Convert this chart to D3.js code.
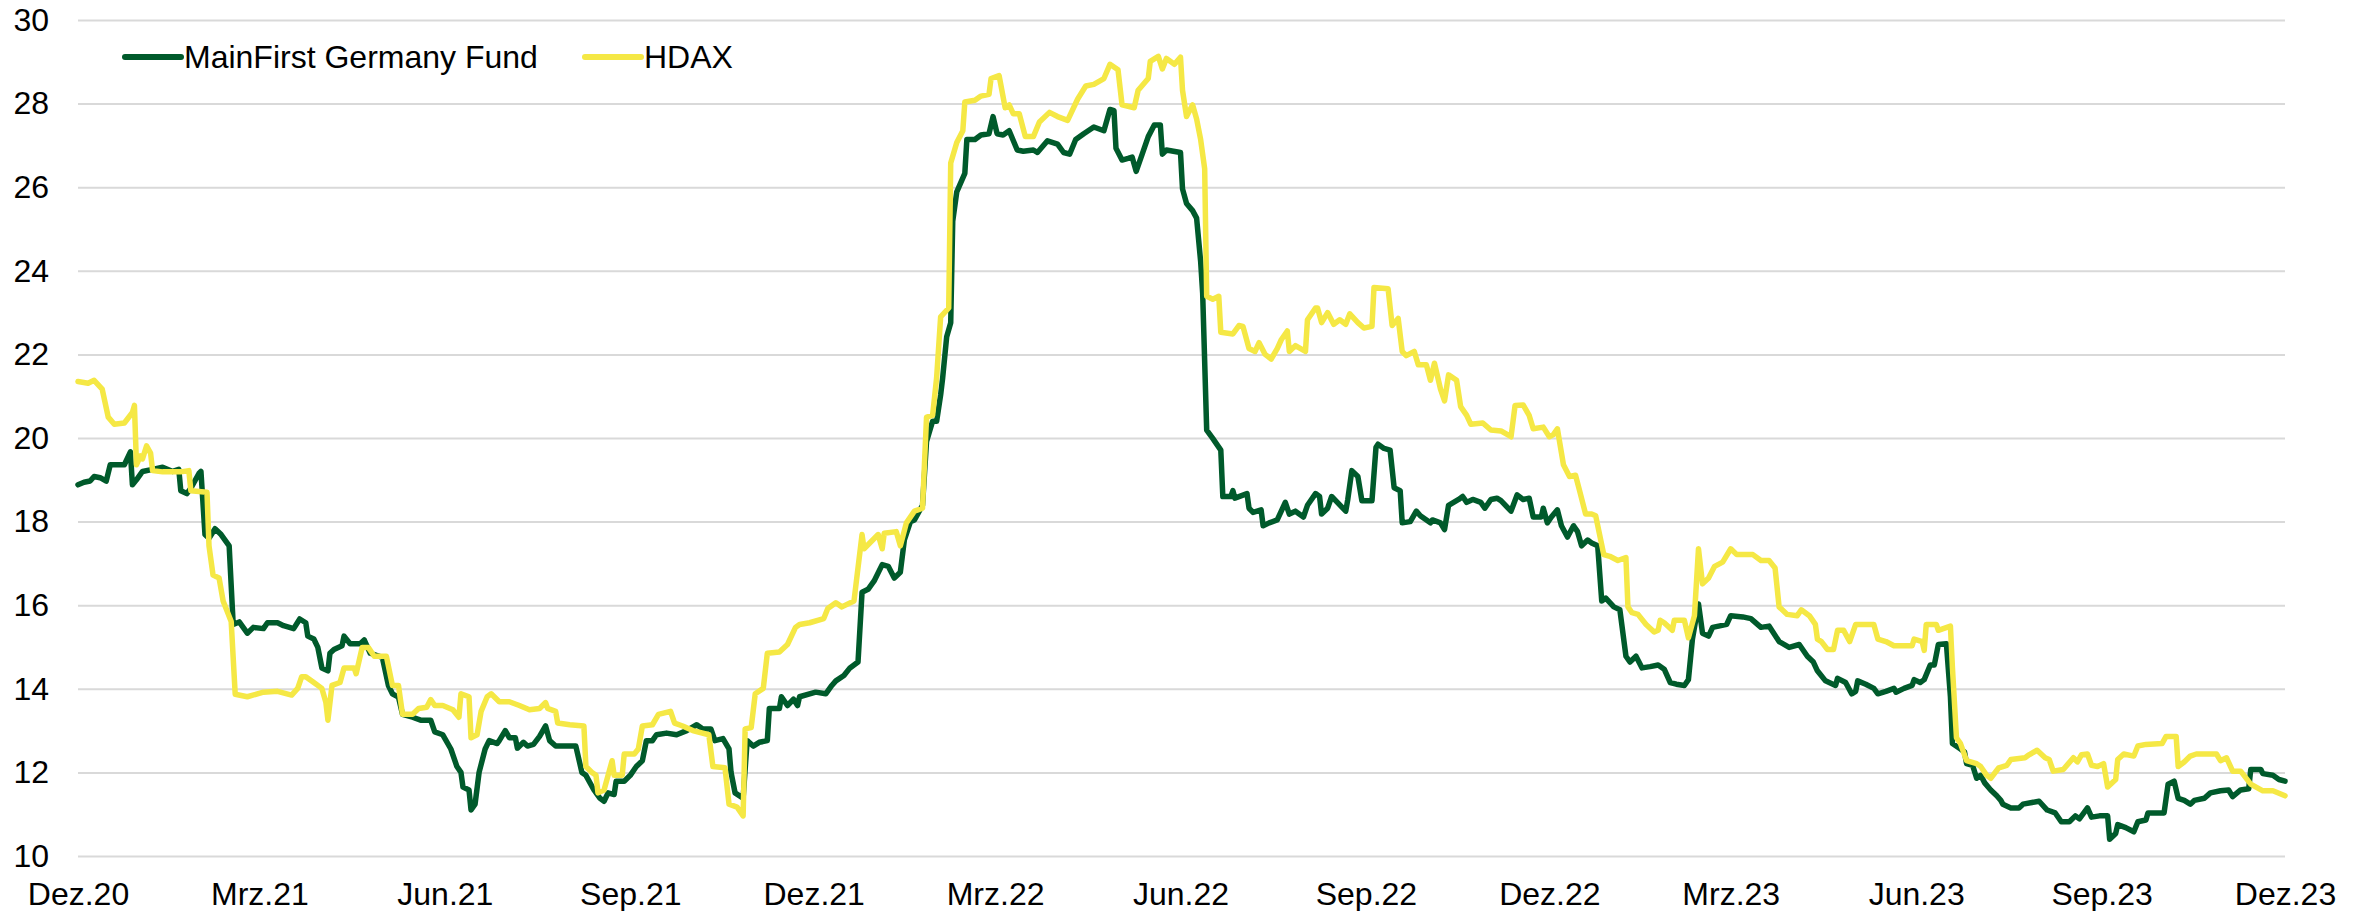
<!DOCTYPE html>
<html>
<head>
<meta charset="utf-8">
<script src="https://cdn.jsdelivr.net/npm/d3@7/dist/d3.min.js"></script>
<style>
  html, body { margin: 0; padding: 0; background: #ffffff; }
  svg { display: block; }
  text { font-family: "Liberation Sans", Arial, sans-serif; }
</style>
</head>
<body>
<svg id="chart" width="2364" height="911"></svg>
<script>
// ---------------- DATA ----------------
// Days since 1 Dec 2020 and values
const seriesNames = ["MainFirst Germany Fund", "HDAX"];

const fundDays = [0,3,6,8,11,14,16,23,26,27,29,32,37,42,47,50,51,54,56,60,61,63,65,68,71,75,77,80,84,87,92,94,99,102,107,110,113,114,117,119,121,124,125,127,131,132,135,140,142,145,151,154,156,159,161,166,170,175,177,181,185,188,190,191,194,195,197,199,202,204,208,209,212,214,217,218,221,223,226,229,232,234,237,247,250,252,256,259,261,263,266,267,271,274,277,280,282,285,287,292,297,302,307,310,314,316,320,323,324,326,330,332,335,338,342,343,348,349,352,355,357,358,366,371,374,376,380,383,387,389,392,395,399,402,405,408,410,413,415,419,421,424,426,428,429,431,433,434,436,440,441,445,448,452,454,456,459,462,466,469,474,476,481,486,489,492,495,499,504,509,512,514,515,518,521,523,525,528,531,534,537,538,540,547,548,550,553,555,557,558,560,563,567,568,572,573,574,580,581,583,587,588,591,595,599,601,604,608,610,614,616,617,620,622,624,629,630,632,635,637,642,644,645,648,651,653,656,657,661,664,666,671,672,676,678,680,685,687,689,692,696,698,701,704,706,711,714,717,720,722,726,727,729,731,734,736,739,742,744,746,749,751,754,756,758,762,765,768,770,773,776,780,784,787,790,793,797,799,801,804,806,809,811,814,818,820,826,830,835,839,844,849,854,858,861,863,867,872,873,877,880,882,883,887,891,893,897,901,902,906,910,911,914,916,919,921,923,927,929,930,934,936,937,940,942,944,946,949,952,954,955,959,963,965,973,977,981,984,988,991,993,997,999,1003,1007,1008,1011,1012,1016,1020,1022,1026,1027,1035,1037,1040,1042,1045,1048,1050,1055,1058,1063,1067,1069,1073,1077,1078,1083,1084,1089,1092,1095];
const fundValues = [18.88,18.94,18.97,19.08,19.05,18.97,19.36,19.36,19.67,18.88,19.0,19.2,19.25,19.3,19.2,19.25,18.74,18.67,18.8,19.15,19.2,17.69,17.6,17.83,17.69,17.42,15.54,15.6,15.33,15.47,15.44,15.58,15.58,15.51,15.44,15.67,15.58,15.26,15.19,14.99,14.5,14.43,14.85,14.94,15.03,15.26,15.08,15.08,15.17,14.85,14.75,14.08,13.88,13.8,13.39,13.32,13.25,13.25,12.97,12.9,12.56,12.14,12.0,11.65,11.58,11.1,11.24,12.0,12.56,12.76,12.69,12.76,13.0,12.83,12.83,12.58,12.72,12.63,12.67,12.86,13.11,12.76,12.63,12.63,12.0,11.93,11.58,11.38,11.31,11.51,11.47,11.79,11.79,11.93,12.14,12.28,12.76,12.76,12.9,12.94,12.9,13.0,13.14,13.04,13.04,12.76,12.81,12.56,12.0,11.51,11.38,12.76,12.63,12.72,12.76,13.53,13.53,13.81,13.6,13.75,13.6,13.81,13.92,13.88,14.08,14.19,14.32,14.5,14.64,16.31,16.38,16.58,16.97,16.93,16.65,16.79,17.56,18.0,18.04,18.39,19.92,20.4,20.4,21.03,21.44,22.42,22.76,25.19,25.89,26.33,27.14,27.14,27.25,27.28,27.69,27.28,27.25,27.35,26.89,26.86,26.89,26.83,27.11,27.03,26.83,26.79,27.14,27.28,27.44,27.35,27.86,27.83,26.93,26.65,26.69,26.72,26.38,26.79,27.21,27.49,27.49,26.79,26.89,26.83,25.96,25.61,25.44,25.26,24.22,23.46,20.19,19.99,19.71,18.6,18.6,18.74,18.56,18.67,18.32,18.22,18.28,17.9,17.97,18.04,18.46,18.18,18.25,18.11,18.39,18.67,18.6,18.18,18.32,18.6,18.5,18.25,18.53,19.22,19.08,18.5,18.5,19.78,19.85,19.75,19.71,18.81,18.74,17.97,18.0,18.25,18.14,17.97,18.04,17.97,17.81,18.39,18.53,18.6,18.46,18.53,18.46,18.32,18.53,18.56,18.5,18.25,18.64,18.53,18.56,18.11,18.11,18.32,17.97,18.11,18.28,17.9,17.63,17.9,17.76,17.42,17.56,17.49,17.42,16.1,16.17,15.96,15.89,14.78,14.64,14.78,14.5,14.53,14.57,14.47,14.15,14.11,14.08,14.22,15.19,16.03,15.33,15.26,15.47,15.5,15.54,15.75,15.72,15.68,15.47,15.5,15.13,14.99,15.06,14.78,14.64,14.43,14.19,14.08,14.25,14.15,13.88,13.94,14.19,14.11,14.01,13.88,13.94,14.01,13.92,14.01,14.08,14.22,14.15,14.22,14.57,14.57,15.06,15.08,13.81,12.69,12.56,12.49,12.21,12.17,11.86,11.93,11.75,11.58,11.44,11.33,11.24,11.15,11.15,11.24,11.31,11.1,11.03,10.82,10.82,10.96,10.89,11.15,10.93,10.96,10.96,10.4,10.54,10.75,10.68,10.58,10.82,10.86,11.03,11.03,11.72,11.79,11.38,11.33,11.24,11.33,11.38,11.51,11.56,11.58,11.42,11.58,11.61,12.07,12.07,11.97,11.93,11.83,11.79];

const hdaxDays = [0,5,8,12,15,18,23,27,28,29,31,32,34,36,37,42,51,55,56,64,65,67,70,72,76,78,84,92,99,106,109,111,113,117,121,123,124,126,130,132,137,138,141,144,147,153,156,159,161,166,169,173,175,177,181,186,189,190,194,195,198,200,203,205,209,214,219,224,229,232,233,237,238,244,251,252,255,257,258,261,265,266,270,271,276,278,280,285,288,294,296,300,305,313,315,321,323,327,330,331,334,336,340,342,348,352,356,358,363,370,372,376,379,385,389,390,397,399,400,406,408,411,415,419,421,424,426,428,432,433,436,439,440,445,448,452,453,457,460,462,464,467,470,474,477,482,486,491,496,500,504,509,512,516,518,524,526,531,532,536,538,540,544,547,548,550,553,555,557,559,560,563,566,567,573,576,578,581,584,586,589,592,595,597,600,601,604,609,610,614,615,617,620,623,626,629,631,635,638,642,643,650,652,655,657,659,663,665,669,671,673,676,678,680,684,686,689,691,697,701,706,711,713,717,720,722,727,730,732,734,737,740,743,745,748,751,753,757,760,764,768,769,771,774,778,782,784,785,787,791,792,797,799,802,804,806,809,812,816,820,823,831,835,839,842,844,848,853,855,859,862,863,865,868,871,873,876,879,882,891,893,897,901,910,911,915,916,917,922,923,929,930,932,934,937,942,944,947,949,953,957,959,966,968,972,976,978,980,985,990,992,994,997,999,1002,1005,1007,1011,1012,1015,1020,1022,1026,1034,1036,1041,1042,1045,1048,1051,1061,1063,1066,1069,1073,1078,1084,1089,1095];
const hdaxValues = [21.35,21.31,21.38,21.17,20.5,20.33,20.36,20.61,20.78,19.36,19.57,19.5,19.81,19.64,19.22,19.19,19.19,19.22,18.74,18.7,17.42,16.72,16.65,16.1,15.61,13.87,13.81,13.92,13.94,13.85,14.01,14.29,14.29,14.15,14.01,13.67,13.25,14.08,14.15,14.5,14.5,14.36,14.99,14.99,14.78,14.78,14.08,14.08,13.39,13.39,13.53,13.56,13.74,13.6,13.6,13.5,13.32,13.88,13.81,12.83,12.9,13.46,13.81,13.88,13.69,13.69,13.6,13.5,13.53,13.67,13.53,13.46,13.18,13.14,13.11,12.14,12.0,11.93,11.51,11.58,12.28,11.93,11.93,12.44,12.44,12.56,13.11,13.14,13.39,13.46,13.18,13.11,13.0,12.9,12.14,12.11,11.24,11.17,10.96,13.04,13.07,13.88,14.01,14.85,14.88,15.06,15.47,15.54,15.58,15.68,15.92,16.06,15.96,16.1,17.69,17.35,17.69,17.35,17.72,17.76,17.42,17.97,18.25,18.32,20.5,20.54,21.44,22.9,23.11,26.58,27.07,27.35,28.04,28.08,28.18,28.22,28.6,28.67,27.9,27.97,27.76,27.76,27.21,27.21,27.56,27.79,27.69,27.6,28.11,28.42,28.46,28.6,28.94,28.81,27.97,27.9,28.32,28.6,29.01,29.13,28.83,29.08,28.94,29.11,28.32,27.69,27.97,27.63,27.14,26.44,23.39,23.32,23.39,22.53,22.49,22.69,22.67,22.14,22.07,22.28,22.0,21.89,22.14,22.35,22.56,22.07,22.21,22.07,22.83,23.11,23.11,22.76,23.0,22.72,22.83,22.72,22.97,22.76,22.63,22.67,23.6,23.57,22.69,22.86,22.07,21.97,22.07,21.75,21.75,21.38,21.79,21.17,20.89,21.51,21.38,20.75,20.54,20.33,20.36,20.19,20.17,20.03,20.78,20.79,20.54,20.22,20.26,20.03,20.08,20.22,19.36,19.08,19.11,18.74,18.18,18.18,18.14,17.21,17.17,17.07,17.14,15.96,15.82,15.78,15.54,15.36,15.4,15.64,15.58,15.4,15.64,15.64,15.22,15.75,17.35,16.51,16.65,16.93,17.03,17.35,17.21,17.21,17.07,17.07,16.89,15.96,15.78,15.75,15.89,15.75,15.54,15.19,15.13,14.94,14.94,15.4,15.4,15.13,15.54,15.54,15.19,15.13,15.03,15.03,15.19,15.13,14.92,15.54,15.54,15.4,15.5,14.5,12.83,12.69,12.28,12.21,12.14,11.93,11.86,12.11,12.17,12.31,12.35,12.42,12.53,12.35,12.31,12.03,12.07,12.35,12.25,12.42,12.44,12.17,12.14,12.21,11.65,11.83,12.31,12.44,12.39,12.63,12.67,12.69,12.86,12.86,12.14,12.25,12.39,12.44,12.44,12.28,12.35,12.03,12.03,11.72,11.56,11.56,11.44];

const yTicks = [10,12,14,16,18,20,22,24,26,28,30];
const xTickDays = [0,90,182,274,365,455,547,639,730,820,912,1004,1095];
const xTickLabels = ["Dez.20","Mrz.21","Jun.21","Sep.21","Dez.21","Mrz.22","Jun.22","Sep.22","Dez.22","Mrz.23","Jun.23","Sep.23","Dez.23"];

// ---------------- CHART ----------------
(function () {
  const startDate = new Date(2020, 11, 1);
  const endDate = new Date(2023, 11, 1);
  const toDate = d => d3.timeDay.offset(startDate, d);

  const colors = { fund: "#005a2b", hdax: "#f5e845" };
  const plotL = 78, plotR = 2285, plotT = 20, plotB = 856;
  const fontSize = 32;

  const svg = d3.select("#chart");
  svg.append("rect").attr("width", 2364).attr("height", 911).attr("fill", "#ffffff");

  const x = d3.scaleTime().domain([startDate, endDate]).range([plotL, plotR]);
  const y = d3.scaleLinear().domain([10, 30]).range([plotB, plotT]);

  // Y axis with gridlines
  const yAxis = svg.append("g")
    .attr("transform", `translate(${plotL},0)`)
    .call(d3.axisLeft(y).tickValues(yTicks).tickFormat(d3.format("d"))
          .tickSize(-(plotR - plotL)).tickPadding(29));
  yAxis.select(".domain").remove();
  yAxis.selectAll(".tick line").attr("stroke", "#d9d9d9").attr("stroke-width", 2);
  yAxis.selectAll(".tick text").attr("fill", "#000").attr("font-size", fontSize)
    .attr("font-family", "Liberation Sans, Arial, sans-serif");

  // X axis labels
  const xAxis = svg.append("g")
    .attr("transform", `translate(0,${plotB})`)
    .call(d3.axisBottom(x).tickValues(xTickDays.map(toDate))
          .tickFormat((d, i) => xTickLabels[i]).tickSize(0).tickPadding(26));
  xAxis.select(".domain").remove();
  xAxis.selectAll(".tick text").attr("fill", "#000").attr("font-size", fontSize)
    .attr("font-family", "Liberation Sans, Arial, sans-serif");

  // Lines
  const line = d3.line().x(d => x(d.date)).y(d => y(d.v)).curve(d3.curveLinear);
  const fundData = fundDays.map((d, i) => ({ date: toDate(d), v: fundValues[i] }));
  const hdaxData = hdaxDays.map((d, i) => ({ date: toDate(d), v: hdaxValues[i] }));

  svg.append("path").datum(fundData).attr("d", line)
    .attr("fill", "none").attr("stroke", colors.fund).attr("stroke-width", 5.5)
    .attr("stroke-linejoin", "round").attr("stroke-linecap", "round");
  svg.append("path").datum(hdaxData).attr("d", line)
    .attr("fill", "none").attr("stroke", colors.hdax).attr("stroke-width", 5.5)
    .attr("stroke-linejoin", "round").attr("stroke-linecap", "round");

  // Legend
  const legendItems = [
    { name: seriesNames[0], color: colors.fund, x: 125 },
    { name: seriesNames[1], color: colors.hdax, x: 585 }
  ];
  const lg = svg.append("g");
  legendItems.forEach(it => {
    lg.append("line").attr("x1", it.x).attr("x2", it.x + 56).attr("y1", 57).attr("y2", 57)
      .attr("stroke", it.color).attr("stroke-width", 6).attr("stroke-linecap", "round");
    lg.append("text").attr("x", it.x + 59).attr("y", 57).attr("dy", "0.35em")
      .attr("font-size", fontSize).attr("fill", "#000").text(it.name);
  });
})();
</script>
</body>
</html>
